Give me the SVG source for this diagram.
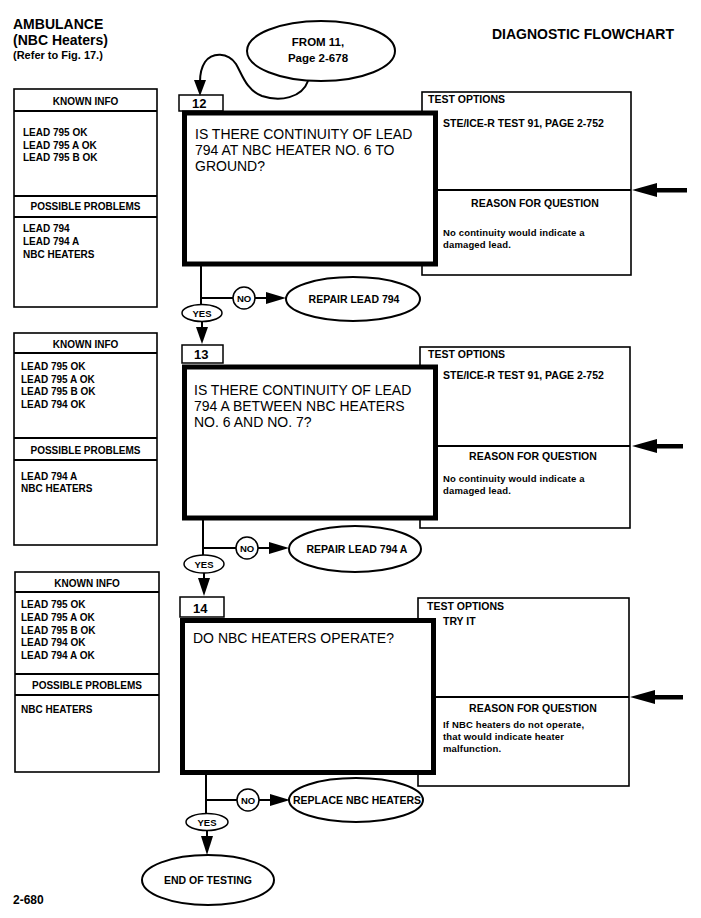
<svg xmlns="http://www.w3.org/2000/svg" width="701" height="918" viewBox="0 0 701 918">
<style>
text{font-family:"Liberation Sans",Arial,Helvetica,sans-serif;fill:#000}
.b{font-weight:bold}
.box{fill:#fff;stroke:#000;stroke-width:1.6}
.q{fill:#fff;stroke:#000;stroke-width:5}
.term{fill:#fff;stroke:#000;stroke-width:2}
.sm{fill:#fff;stroke:#000;stroke-width:1.5}
.ln{fill:none;stroke:#000;stroke-width:2}
.hd{font-size:10px;font-weight:bold;text-anchor:middle}
.it{font-size:10px;font-weight:bold}
.qt{font-size:14px}
.to{font-size:10.5px;font-weight:bold}
.rs{font-size:9.5px;font-weight:bold;letter-spacing:0.15px}
.el{font-size:10.5px;font-weight:bold;text-anchor:middle}
.yn{font-size:9.5px;font-weight:bold;text-anchor:middle}
.num{font-size:13px;font-weight:bold}
</style>

<g id="header">
<text class="b" x="13" y="29" font-size="14">AMBULANCE</text>
<text class="b" x="13" y="45" font-size="14">(NBC Heaters)</text>
<text class="b" x="13" y="59" font-size="11">(Refer to Fig. 17.)</text>
<text class="b" x="492" y="39" font-size="14">DIAGNOSTIC FLOWCHART</text>
<text class="b" x="13" y="904" font-size="12">2-680</text>
</g>

<g id="from11">
<ellipse class="term" cx="321" cy="51" rx="74" ry="30"/>
<text class="b" x="318" y="46" font-size="11.5" text-anchor="middle">FROM 11,</text>
<text class="b" x="318" y="62" font-size="11.5" text-anchor="middle">Page 2-678</text>
</g>

<!-- Section 12 -->
<g id="known12">
<rect class="box" x="14" y="89" width="143" height="218"/>
<line class="ln" x1="14" y1="111" x2="157" y2="111" stroke-width="1.5"/>
<text class="hd" x="85.5" y="105">KNOWN INFO</text>
<text class="it" x="23" y="136">LEAD 795 OK</text>
<text class="it" x="23" y="148.5">LEAD 795 A OK</text>
<text class="it" x="23" y="161">LEAD 795 B OK</text>
<line class="ln" x1="14" y1="196" x2="157" y2="196" stroke-width="1.5"/>
<line class="ln" x1="14" y1="217" x2="157" y2="217" stroke-width="1.5"/>
<text class="hd" x="85.5" y="210">POSSIBLE PROBLEMS</text>
<text class="it" x="23" y="232">LEAD 794</text>
<text class="it" x="23" y="245">LEAD 794 A</text>
<text class="it" x="23" y="258">NBC HEATERS</text>
</g>
<g id="test12">
<rect class="box" x="422" y="92" width="209" height="183"/>
<line class="ln" x1="430" y1="190" x2="631" y2="190"/>
<text class="to" x="428" y="103">TEST OPTIONS</text>
<text class="to" x="443" y="127">STE/ICE-R TEST 91, PAGE 2-752</text>
<text class="to" x="535" y="207" text-anchor="middle">REASON FOR QUESTION</text>
<text class="rs" x="443" y="236">No continuity would indicate a</text>
<text class="rs" x="443" y="248">damaged lead.</text>
</g>
<g id="num12">
<rect class="sm" x="179" y="95" width="44" height="16"/>
<text class="num" x="192" y="108">12</text>
</g>
<g id="q12">
<rect class="q" x="184.5" y="113" width="251" height="151"/>
<text class="qt" x="195" y="139">IS THERE CONTINUITY OF LEAD</text>
<text class="qt" x="195" y="155">794 AT NBC HEATER NO. 6 TO</text>
<text class="qt" x="195" y="171">GROUND?</text>
</g>
<g id="repair794">
<ellipse class="term" cx="353" cy="299" rx="67" ry="22"/>
<text class="el" x="354" y="303">REPAIR LEAD 794</text>
</g>

<!-- Section 13 -->
<g id="known13">
<rect class="box" x="14" y="333" width="143" height="212"/>
<line class="ln" x1="14" y1="353" x2="157" y2="353" stroke-width="1.5"/>
<text class="hd" x="85.5" y="348">KNOWN INFO</text>
<text class="it" x="21" y="370">LEAD 795 OK</text>
<text class="it" x="21" y="382.5">LEAD 795 A OK</text>
<text class="it" x="21" y="395">LEAD 795 B OK</text>
<text class="it" x="21" y="407.5">LEAD 794 OK</text>
<line class="ln" x1="14" y1="438" x2="157" y2="438" stroke-width="1.5"/>
<line class="ln" x1="14" y1="460" x2="157" y2="460" stroke-width="1.5"/>
<text class="hd" x="85.5" y="454">POSSIBLE PROBLEMS</text>
<text class="it" x="21" y="480">LEAD 794 A</text>
<text class="it" x="21" y="492">NBC HEATERS</text>
</g>
<g id="test13">
<rect class="box" x="420" y="347" width="210" height="181"/>
<line class="ln" x1="430" y1="446" x2="630" y2="446"/>
<text class="to" x="428" y="358">TEST OPTIONS</text>
<text class="to" x="443" y="379">STE/ICE-R TEST 91, PAGE 2-752</text>
<text class="to" x="533" y="460" text-anchor="middle">REASON FOR QUESTION</text>
<text class="rs" x="443" y="482">No continuity would indicate a</text>
<text class="rs" x="443" y="494">damaged lead.</text>
</g>
<g id="num13">
<rect class="sm" x="182" y="345" width="41" height="18"/>
<text class="num" x="194" y="359">13</text>
</g>
<g id="q13">
<rect class="q" x="184.5" y="367" width="251" height="151"/>
<text class="qt" x="194" y="395">IS THERE CONTINUITY OF LEAD</text>
<text class="qt" x="194" y="411">794 A BETWEEN NBC HEATERS</text>
<text class="qt" x="194" y="427">NO. 6 AND NO. 7?</text>
</g>
<g id="repair794a">
<ellipse class="term" cx="355" cy="549" rx="66" ry="23"/>
<text class="el" x="357" y="553">REPAIR LEAD 794 A</text>
</g>

<!-- Section 14 -->
<g id="known14">
<rect class="box" x="15" y="572" width="144" height="200"/>
<line class="ln" x1="15" y1="592" x2="159" y2="592" stroke-width="1.5"/>
<text class="hd" x="87" y="587">KNOWN INFO</text>
<text class="it" x="21" y="608">LEAD 795 OK</text>
<text class="it" x="21" y="621">LEAD 795 A OK</text>
<text class="it" x="21" y="633.5">LEAD 795 B OK</text>
<text class="it" x="21" y="646">LEAD 794 OK</text>
<text class="it" x="21" y="659">LEAD 794 A OK</text>
<line class="ln" x1="15" y1="674" x2="159" y2="674" stroke-width="1.5"/>
<line class="ln" x1="15" y1="695" x2="159" y2="695" stroke-width="1.5"/>
<text class="hd" x="87" y="689">POSSIBLE PROBLEMS</text>
<text class="it" x="21" y="713">NBC HEATERS</text>
</g>
<g id="test14">
<rect class="box" x="418" y="598" width="211" height="188"/>
<line class="ln" x1="430" y1="697" x2="629" y2="697"/>
<text class="to" x="427" y="610">TEST OPTIONS</text>
<text class="to" x="443" y="625">TRY IT</text>
<text class="to" x="533" y="712" text-anchor="middle">REASON FOR QUESTION</text>
<text class="rs" x="443" y="728">If NBC heaters do not operate,</text>
<text class="rs" x="443" y="740">that would indicate heater</text>
<text class="rs" x="443" y="752">malfunction.</text>
</g>
<g id="num14">
<rect class="sm" x="180" y="597" width="44" height="20"/>
<text class="num" x="193" y="613">14</text>
</g>
<g id="q14">
<rect class="q" x="182.5" y="620.5" width="251" height="152"/>
<text class="qt" x="193" y="643">DO NBC HEATERS OPERATE?</text>
</g>
<g id="replace">
<ellipse class="term" cx="356" cy="800" rx="67" ry="22"/>
<text class="el" x="357" y="804" font-size="10">REPLACE NBC HEATERS</text>
</g>
<g id="end">
<ellipse class="term" cx="208" cy="880" rx="66" ry="25"/>
<text class="el" x="208" y="884">END OF TESTING</text>
</g>

<g id="connectors">
<!-- from 11 to 12 -->
<path class="ln" d="M308 81 C302 98 280 102 262 96 C246 90 242 74 236 64 C228 52 212 52 205 62 C201 68 200 74 200 82"/>
<polygon points="194,80 206,80 200,96"/>
<!-- 12 -->
<line class="ln" x1="201" y1="266" x2="201" y2="304"/>
<line class="ln" x1="201" y1="298" x2="233" y2="298"/>
<circle class="sm" cx="244" cy="298" r="11"/>
<text class="yn" x="244" y="301.5">NO</text>
<line class="ln" x1="255" y1="298" x2="268" y2="298"/>
<polygon points="266,292 266,304 286,298"/>
<ellipse class="sm" cx="202" cy="313" rx="20" ry="8.5"/>
<text class="yn" x="202" y="316.5">YES</text>
<line class="ln" x1="202" y1="321.5" x2="202" y2="330"/>
<polygon points="196,327 208,327 202,344"/>
<!-- 13 -->
<line class="ln" x1="203" y1="520" x2="203" y2="555"/>
<line class="ln" x1="203" y1="548" x2="236" y2="548"/>
<circle class="sm" cx="247" cy="548" r="11"/>
<text class="yn" x="247" y="551.5">NO</text>
<line class="ln" x1="258" y1="548" x2="271" y2="548"/>
<polygon points="269,542 269,554 289,548"/>
<ellipse class="sm" cx="204" cy="564" rx="20" ry="9"/>
<text class="yn" x="204" y="567.5">YES</text>
<line class="ln" x1="204" y1="573" x2="204" y2="580"/>
<polygon points="198,578 210,578 204,596"/>
<!-- 14 -->
<line class="ln" x1="206" y1="774" x2="206" y2="814"/>
<line class="ln" x1="206" y1="800" x2="237" y2="800"/>
<circle class="sm" cx="248" cy="800" r="11"/>
<text class="yn" x="248" y="803.5">NO</text>
<line class="ln" x1="259" y1="800" x2="272" y2="800"/>
<polygon points="270,794 270,806 290,800"/>
<ellipse class="sm" cx="207" cy="822" rx="21" ry="8.5"/>
<text class="yn" x="207" y="825.5">YES</text>
<line class="ln" x1="207" y1="830.5" x2="207" y2="838"/>
<polygon points="201,836 213,836 207,855"/>
<!-- incoming arrows at right -->
<polygon points="632,190 657,183 657,197"/>
<rect x="655" y="188" width="32" height="4.5"/>
<polygon points="632,446 657,439 657,453"/>
<rect x="655" y="444" width="28" height="4.5"/>
<polygon points="630,697 655,690 655,704"/>
<rect x="653" y="695" width="30" height="4.5"/>
</g>
</svg>
